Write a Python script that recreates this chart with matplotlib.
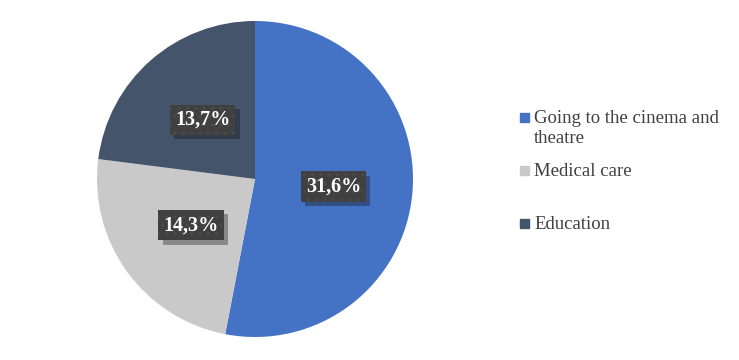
import matplotlib.pyplot as plt
import matplotlib.patheffects as pe
from matplotlib.patches import Rectangle

categories = ['Going to the cinema and\ntheatre', 'Medical care', 'Education']
values = [31.6, 14.3, 13.7]
colors = ['#4472C4', '#C9C9C9', '#44546A']

total = sum(values)


def fmt(p):
    return '{:.1f}%'.format(p * total / 100).replace('.', ',')


fig = plt.figure(figsize=(7.39, 3.6), dpi=100)
ax = fig.add_axes([97 / 739, 23 / 360, 316 / 739, 316 / 360])

wedges, texts, autotexts = ax.pie(values, colors=colors, startangle=90, counterclock=False,
                                  autopct=fmt, pctdistance=0.5,
                                  wedgeprops=dict(linewidth=0))
ax.set_xlim(-1, 1)
ax.set_ylim(-1, 1)

lbl_font = dict(family='Liberation Serif', fontweight='bold', fontsize=14.5, color='white')
for t in autotexts:
    t.set(**lbl_font)
    # plain box carries the shadow
    t.set_bbox(dict(boxstyle='square,pad=0.25', fc='#404040', ec='none'))
    t.get_bbox_patch().set_path_effects([pe.withSimplePatchShadow(offset=(3, -3), alpha=0.35)])
    # dotted box on top of it
    x, y = t.get_position()
    ax.text(x, y, t.get_text(), ha='center', va='center', **lbl_font,
            bbox=dict(boxstyle='square,pad=0.25', fc='#404040', ec='#4c4c4c', lw=0, hatch='..'))

# legend drawn by hand to keep the marker next to the first line
ys = [117, 170, 223]
for lab, c, y in zip(categories, colors, ys):
    fig.patches.append(Rectangle((520 / 739, 1 - (y + 5) / 360), 9 / 739, 9 / 360,
                                 color=c, transform=fig.transFigure))
    fig.text(534 / 739, 1 - (y - 7) / 360, lab, family='Liberation Serif', fontsize=13.5,
             color='#404040', va='top', linespacing=1.25)

fig.savefig('out.png', dpi=100)
